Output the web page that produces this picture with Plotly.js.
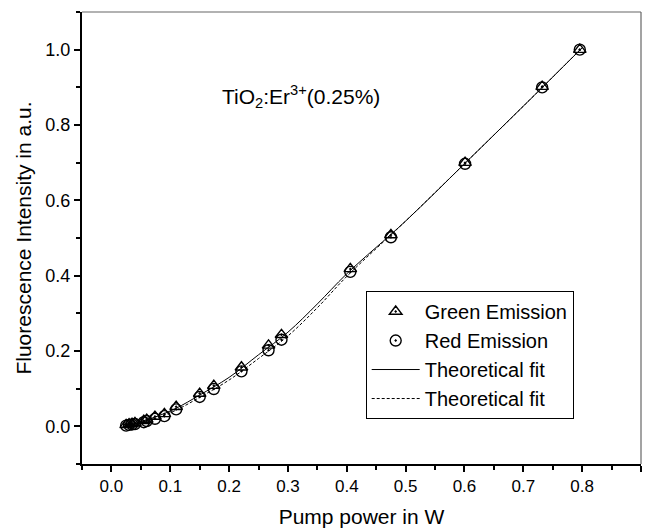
<!DOCTYPE html>
<html>
<head>
<meta charset="utf-8">
<script src="https://cdn.plot.ly/plotly-3.0.1.min.js"></script>
<style>html,body{margin:0;padding:0;background:#fff;}#chart{width:652px;height:529px;}</style>
</head>
<body>
<div id="chart"></div>
<script>
// Pump power (W) for measured points
const pumpPower = [0.025, 0.030, 0.035, 0.040, 0.055, 0.060, 0.074, 0.090, 0.110, 0.150, 0.174, 0.221, 0.267, 0.289, 0.406, 0.475, 0.601, 0.732, 0.796];
// Green emission (normalized)
const greenEmission = [0.004, 0.006, 0.007, 0.009, 0.015, 0.018, 0.026, 0.033, 0.052, 0.087, 0.108, 0.157, 0.215, 0.243, 0.418, 0.508, 0.700, 0.902, 1.000];
// Red emission (normalized)
const redEmission = [0.002, 0.004, 0.005, 0.006, 0.011, 0.014, 0.020, 0.027, 0.045, 0.078, 0.099, 0.146, 0.202, 0.230, 0.410, 0.502, 0.697, 0.900, 1.000];
// Theoretical fit curves
const fitX = [0.022, 0.05, 0.08, 0.11, 0.15, 0.20, 0.25, 0.30, 0.35, 0.40, 0.50, 0.60, 0.70, 0.80];
const fitGreen = [0.000, 0.012, 0.028, 0.048, 0.083, 0.130, 0.190, 0.250, 0.325, 0.405, 0.545, 0.697, 0.850, 1.005];
const fitRed = [0.000, 0.010, 0.024, 0.043, 0.077, 0.123, 0.180, 0.240, 0.315, 0.398, 0.545, 0.697, 0.850, 1.005];

const xTicks = [0.0, 0.1, 0.2, 0.3, 0.4, 0.5, 0.6, 0.7, 0.8, 0.9];
const yTicks = [0.0, 0.2, 0.4, 0.6, 0.8, 1.0];
const labels = ['Green Emission', 'Red Emission', 'Theoretical fit', 'Theoretical fit'];

const font = 'Liberation Sans, Arial, sans-serif';

const traces = [
  {x: pumpPower, y: greenEmission, mode: 'markers', name: labels[0],
   marker: {symbol: 'triangle-up-open-dot', size: 11, color: '#000', line: {color: '#000', width: 1.4}}},
  {x: pumpPower, y: redEmission, mode: 'markers', name: labels[1],
   marker: {symbol: 'circle-open-dot', size: 11, color: '#000', line: {color: '#000', width: 1.4}}},
  {x: fitX, y: fitGreen, mode: 'lines', name: labels[2], line: {color: '#000', width: 1, shape: 'spline'}},
  {x: fitX, y: fitRed, mode: 'lines', name: labels[3], line: {color: '#000', width: 1, dash: '3px,2px', shape: 'spline'}}
];

const layout = {
  width: 652, height: 529,
  margin: {l: 82, r: 11, t: 12, b: 65},
  paper_bgcolor: '#fff', plot_bgcolor: '#fff',
  font: {family: font, color: '#000', size: 17},
  showlegend: true,
  legend: {x: 0.5075, y: 0.3827, xanchor: 'left', yanchor: 'top',
           bordercolor: '#000', borderwidth: 1, bgcolor: '#fff',
           font: {family: font, size: 20, color: '#000'},
           tracegroupgap: 0, itemwidth: 48},
  xaxis: {range: [-0.05, 0.9], tickvals: xTicks, tickformat: '.1f',
          showgrid: false, zeroline: false, showline: true, linecolor: '#000', linewidth: 2,
          ticks: 'outside', ticklen: 6, tickwidth: 2, tickcolor: '#000',
          minor: {dtick: 0.05, tick0: 0, ticks: 'outside', ticklen: 4, tickwidth: 2, tickcolor: '#000', showgrid: false},
          tickfont: {family: font, size: 17},
          title: {text: 'Pump power in W', font: {family: font, size: 21}, standoff: 14}},
  yaxis: {range: [-0.1, 1.1], tickvals: yTicks, tickformat: '.1f',
          showgrid: false, zeroline: false, showline: true, linecolor: '#000', linewidth: 2,
          ticks: 'outside', ticklen: 6, tickwidth: 2, tickcolor: '#000',
          minor: {dtick: 0.1, tick0: 0, ticks: 'outside', ticklen: 4, tickwidth: 2, tickcolor: '#000', showgrid: false},
          tickfont: {family: font, size: 18},
          title: {text: 'Fluorescence Intensity in a.u.', font: {family: font, size: 21}, standoff: 8}},
  shapes: [
    {type: 'line', xref: 'paper', yref: 'paper', x0: 0, x1: 1, y0: 1, y1: 1, line: {color: '#666', width: 1.2}},
    {type: 'line', xref: 'paper', yref: 'paper', x0: 1, x1: 1, y0: 0, y1: 1, line: {color: '#666', width: 1.2}}
  ],
  annotations: [
    {x: 0.184, y: 0.877, xref: 'x', yref: 'y', xanchor: 'left', yanchor: 'middle', showarrow: false,
     text: 'TiO<sub>2</sub>:Er<sup>3+</sup>(0.25%)', font: {family: font, size: 21, color: '#000'}}
  ]
};

Plotly.newPlot('chart', traces, layout, {displayModeBar: false, staticPlot: true});
</script>
</body>
</html>
